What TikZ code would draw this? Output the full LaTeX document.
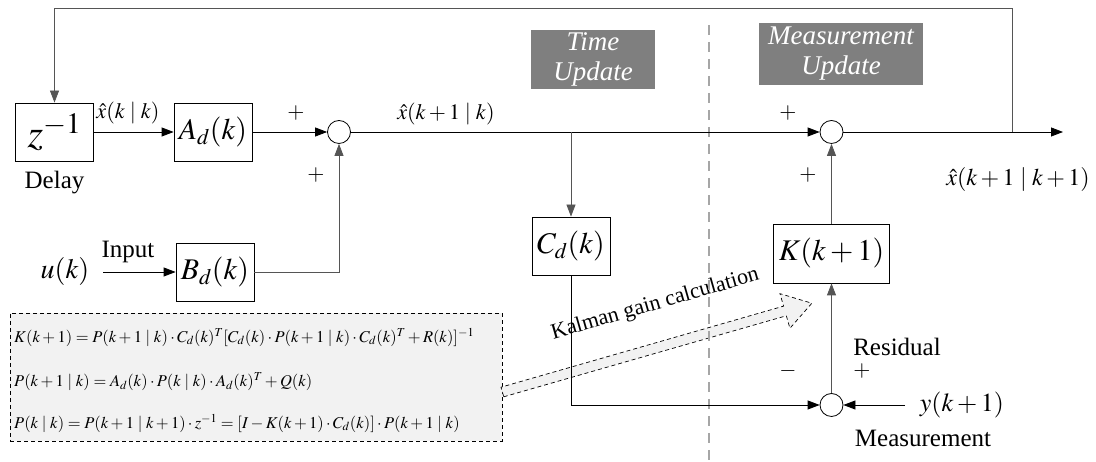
\documentclass[tikz,border=0pt]{standalone}
\usepackage{mathptmx}
\usepackage[no-math]{fontspec}
\setmainfont{Liberation Serif}
\usetikzlibrary{arrows.meta,positioning,calc}
\definecolor{bandgray}{HTML}{7F7F7F}
\definecolor{eqfill}{HTML}{F2F2F2}
\definecolor{wiregray}{HTML}{555555}
\definecolor{splitgray}{HTML}{A6A6A6}

\begin{document}
\begin{tikzpicture}[x=1pt, y=1pt,
  blk/.style   = {draw, line width=0.8pt, minimum width=78pt, minimum height=58pt,
                  inner sep=0pt, font=\fontsize{30}{32}\selectfont},
  sumj/.style  = {draw, circle, line width=0.8pt, minimum size=23pt, inner sep=0pt, fill=white},
  band/.style  = {fill=bandgray, text=white, align=center, inner sep=0pt,
                  font=\fontsize{27}{30}\selectfont\itshape},
  sig/.style   = {-{Triangle[length=12pt,width=9pt]}, line width=0.8pt},
  wire/.style  = {draw=wiregray},
  lbl/.style   = {font=\rmfamily\fontsize{25}{28}\selectfont, inner sep=0pt},
  sgn/.style   = {font=\fontsize{22}{24}\selectfont, inner sep=0pt},
  est/.style   = {font=\fontsize{22}{24}\selectfont, inner sep=0pt},
  eqn/.style   = {font=\fontsize{16.5}{18}\selectfont, inner sep=0pt, anchor=west},
  split/.style = {draw=splitgray, line width=1.2pt, dash pattern=on 10pt off 7pt},
  gain/.style  = {draw, fill=eqfill, line width=0.7pt, dash pattern=on 4pt off 3pt},
]
\useasboundingbox (0,0) rectangle (1096,462);

% ---------- time update side ------------------------------------------------------------
\node[blk, font=\fontsize{40}{42}\selectfont] (dly) at (54.5,330) {$z^{-1}$};
\node[blk] (ad)  at (213,330)  {$A_d(k)$};
\node[sumj] (s1) at (339,330) {};
\node[blk] (bd)  at (215,190)  {$B_d(k)$};
\node[blk] (cd)  at (571,216)  {$C_d(k)$};
\node[band, minimum width=124pt, minimum height=59pt] (tu) at (593,402.5) {Time\\Update};

\node[lbl, below=10pt of dly] {Delay};
\node[est] at (128,349) {$\hat{x}(k\mid k)$};
\node[est] at (446,348) {$\hat{x}(k+1\mid k)$};
\node[sgn] at (296,349) {$+$};
\node[sgn] at (316,287) {$+$};
\node[font=\fontsize{28}{30}\selectfont, inner sep=0pt] (uk) at (65,190) {$u(k)$};
\coordinate (uin) at (103,190);
\node[lbl] at (128,210) {Input};

% ---------- measurement update side -----------------------------------------------------
\node[sumj] (s2) at (831.5,330) {};
\node[sumj] (s3) at (831.5,57)  {};
\node[blk, minimum width=116pt, minimum height=59pt] (kg) at (831.5,208.5) {$K(k+1)$};
\node[band, minimum width=164pt, minimum height=62pt] (mu) at (841,408) {Measurement\\Update};

\node[sgn] at (788,349) {$+$};
\node[sgn] at (808,287) {$+$};
\node[est, font=\fontsize{24}{26}\selectfont] at (1018,282) {$\hat{x}(k+1\mid k+1)$};
\node[lbl] at (897,115) {Residual};
\node[sgn] at (862,91) {$+$};
\node[sgn] at (788,91) {$-$};
\node[font=\fontsize{26}{28}\selectfont, inner sep=0pt] (yk) at (962,57) {$y(k+1)$};
\coordinate (yin) at (905,57);
\node[lbl] at (923,24) {Measurement};

\coordinate (br)  at (571,330);
\coordinate (fb)  at (1012,330);
\coordinate (out) at (1063,330);
\coordinate (top) at (1012,454);

% ---------- gain equations --------------------------------------------------------------
\node[draw, fill=eqfill, line width=0.7pt, dash pattern=on 4pt off 3pt,
      minimum width=492pt, minimum height=128pt, inner sep=0pt] (eqs) at (256,85) {};
\node[eqn] at (14,125) {$K(k+1)=P(k+1\mid k)\cdot C_d(k)^T[C_d(k)\cdot P(k+1\mid k)\cdot C_d(k)^T+R(k)]^{-1}$};
\node[eqn] at (14,80)  {$P(k+1\mid k)=A_d(k)\cdot P(k\mid k)\cdot A_d(k)^T+Q(k)$};
\node[eqn] at (14,39)  {$P(k\mid k)=P(k+1\mid k+1)\cdot z^{-1}=[I-K(k+1)\cdot C_d(k)]\cdot P(k+1\mid k)$};

% hollow arrow eqs -> K
\begin{scope}[shift={(eqs.east |- 0,70)}, rotate=16]
  \draw[gain] (0,-5) -- (294,-5) -- (294,-18) -- (322,0) -- (294,18) -- (294,5) -- (0,5) -- cycle;
  \node[font=\fontsize{22}{24}\selectfont, rotate=16, inner sep=0pt] at (171,42) {Kalman gain calculation};
\end{scope}

% ---------- connectors ------------------------------------------------------------------
\draw[split] (709,437) -- (709,0);
\draw[sig] (dly) -- (ad);
\draw[sig] (ad) -- (s1);
\draw[sig] (s1) -- (s2);
\draw[sig, wire] (bd) -| (s1);
\draw[sig, wire] (br) -- (cd);
\draw[sig] (s2) -- (out);
\draw[sig, wire] (fb) -- (top) -| (dly.north);
\draw[sig, wire] (kg) -- (s2);
\draw[sig] (cd) |- (s3);
\draw[sig] (yin) -- (s3);
\draw[sig, wire] (s3) -- (kg);
\draw[sig] (uin) -- (bd);

\end{tikzpicture}
\end{document}
